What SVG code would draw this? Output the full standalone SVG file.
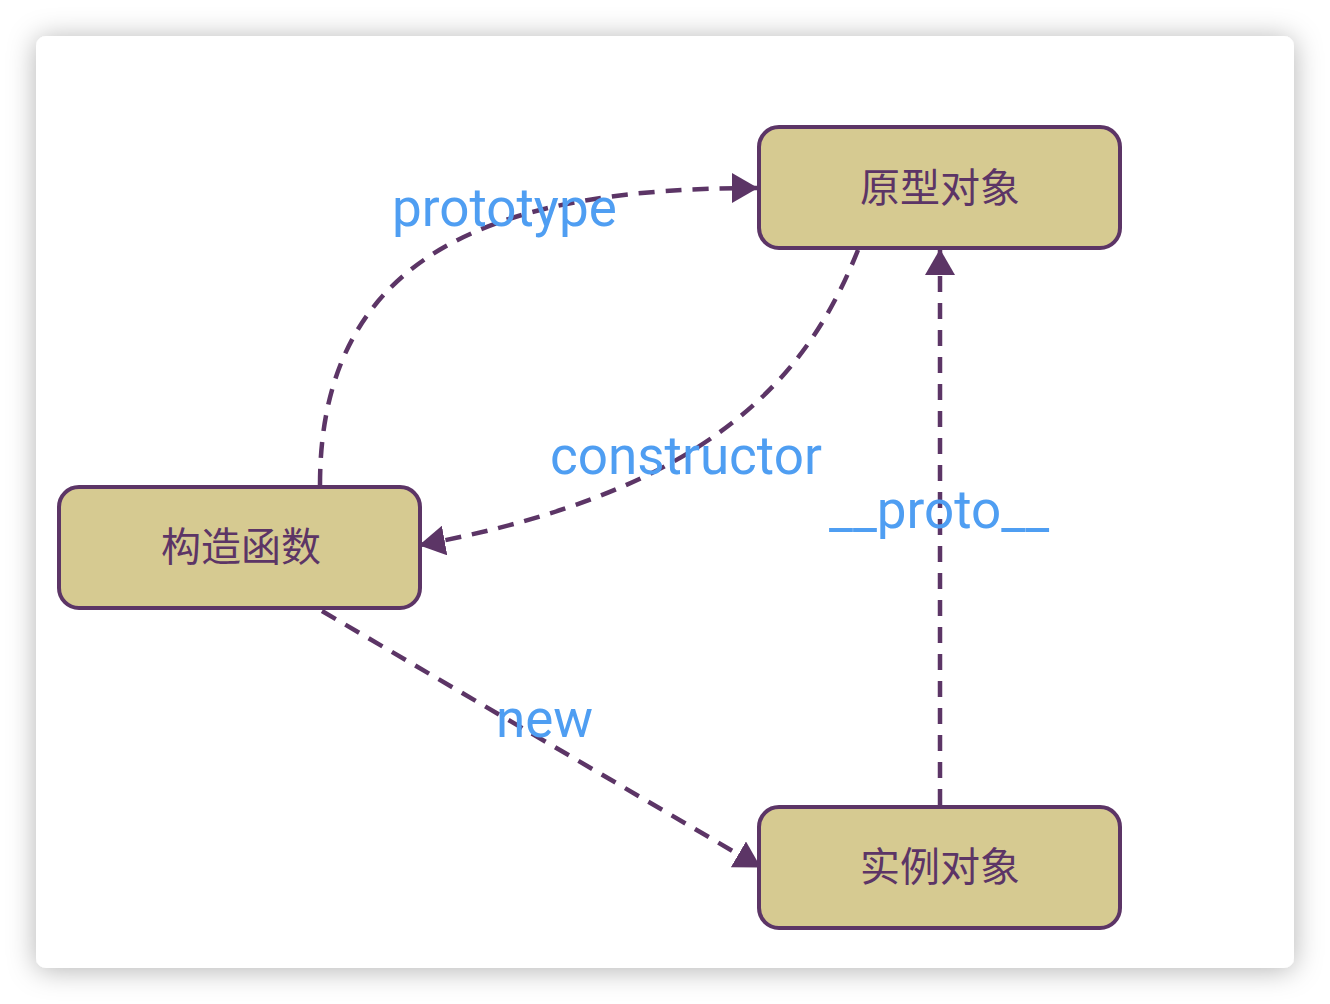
<svg xmlns="http://www.w3.org/2000/svg" width="1330" height="1004" viewBox="0 0 1330 1004">
  <style>
    .node rect { fill: #d6ca91; stroke: #5c3566; stroke-width: 4; }
    .node text { font-family: "Noto Sans CJK SC", "Noto Sans", sans-serif; font-size: 40px; fill: #5c3566; text-anchor: middle; dominant-baseline: central; }
    .edge { fill: none; stroke: #5c3566; stroke-width: 4.5; stroke-dasharray: 16 11; marker-end: url(#arrow); }
    .label { font-family: Roboto, "Liberation Sans", sans-serif; font-size: 53px; fill: #4f9ef2; }
  </style>
  <defs>
    <filter id="shadow" x="-10%" y="-10%" width="120%" height="120%">
      <feDropShadow dx="0" dy="2" stdDeviation="14" flood-color="#000" flood-opacity="0.3"/>
    </filter>
    <marker id="arrow" markerUnits="userSpaceOnUse" markerWidth="26" markerHeight="30" refX="25" refY="15" orient="auto">
      <path d="M0,0 L26,15 L0,30 z" fill="#5c3566"/>
    </marker>
  </defs>
  <rect x="0" y="0" width="1330" height="1004" fill="#ffffff"/>
  <rect x="36" y="36" width="1258" height="932" rx="10" fill="#ffffff" filter="url(#shadow)"/>

  <g id="connectors">
    <path class="edge" d="M320,485 C320,250 500,188 757,188"/>
    <path class="edge" d="M858,250 C810,370 720,490 420,545"/>
    <path class="edge" d="M322,611 L760,867"/>
    <path class="edge" d="M940,805 L940,250"/>
    <text class="label" x="392" y="226">prototype</text>
    <text class="label" x="550" y="474">constructor</text>
    <text class="label" x="829" y="528">__proto__</text>
    <text class="label" x="496" y="737">new</text>
  </g>

  <g id="node-prototype" class="node">
    <rect x="759" y="127" width="361" height="121" rx="20"/>
    <text x="940" y="185">原型对象</text>
  </g>
  <g id="node-constructor" class="node">
    <rect x="59" y="487" width="361" height="121" rx="20"/>
    <text x="241" y="544">构造函数</text>
  </g>
  <g id="node-instance" class="node">
    <rect x="759" y="807" width="361" height="121" rx="20"/>
    <text x="940" y="864">实例对象</text>
  </g>
</svg>
